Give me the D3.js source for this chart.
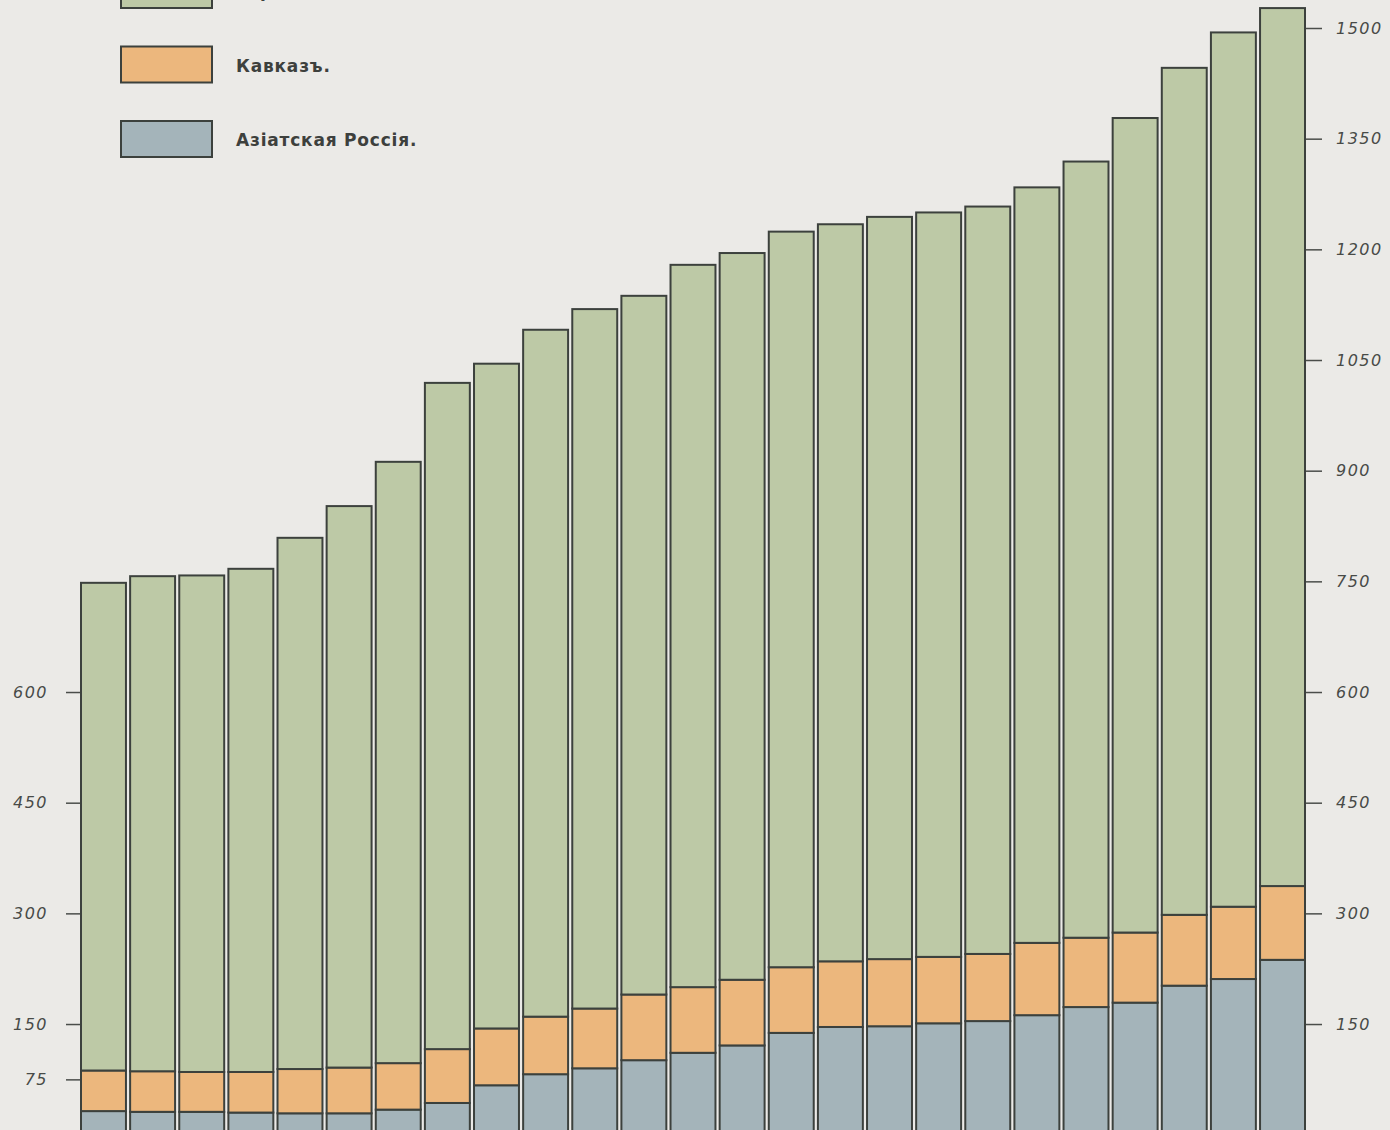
<!DOCTYPE html>
<html>
<head>
<meta charset="utf-8">
<script src="https://cdn.jsdelivr.net/npm/d3@7"></script>
<style>
  html, body { margin: 0; padding: 0; background: #ebeae7; overflow: hidden; }
</style>
</head>
<body>
<script>
'use strict';

// one bar per year (thousands of km)
const years = ["1", "2", "3", "4", "5", "6", "7", "8", "9", "10", "11", "12", "13",
  "14", "15", "16", "17", "18", "19", "20", "21", "22", "23", "24", "25"];

const asia = [32, 31, 31, 30, 29, 29, 34, 43, 67, 82, 90, 101, 111, 121, 138, 146,
  147, 151, 154, 162, 173, 179, 202, 211, 237];

const caucasus = [55, 55, 54, 55, 60, 62, 63, 73, 77, 78, 81, 89, 89, 89, 89, 89,
  91, 90, 91, 98, 94, 95, 96, 98, 100];

const europe = [661, 671, 673, 682, 720, 761, 815, 903, 901, 931, 948, 947, 979,
  985, 997, 999, 1006, 1009, 1013, 1024, 1052, 1104, 1148, 1185, 1190];

const leftTicks = [75, 150, 300, 450, 600];
const rightTicks = [150, 300, 450, 600, 750, 900, 1050, 1200, 1350, 1500];

const seriesNames = ["europe", "caucasus", "asia"];
const legendLabels = ["Европейская Россія.", "Кавказъ.", "Азіатская Россія."];

const colors = {
  "europe": "#bdc9a6",
  "caucasus": "#ecb77d",
  "asia": "#a4b4ba"
};

(function () {

  let svgContainer = d3.select('body')
    .append('svg')
    .attr('width', 1390)
    .attr('height', 1130);

  // paper background
  svgContainer.append('rect')
    .attr('width', 1390)
    .attr('height', 1130)
    .attr('fill', '#ebeae7');

  let xScale = d3.scaleBand()
    .domain(years)
    .range([81, 1305])
    .paddingInner(0.085)
    .paddingOuter(0);

  let yScale = d3.scaleLinear()
    .domain([0, 1500])
    .range([1134.7, 28]);

  // build table for the stack
  let table = years.map((y, i) => ({
    year: y,
    asia: asia[i],
    caucasus: caucasus[i],
    europe: europe[i]
  }));

  // stack from bottom: asia, caucasus, europe
  let stack = d3.stack().keys(["asia", "caucasus", "europe"]);
  let layers = stack(table);

  svgContainer.append('g')
    .selectAll('g')
    .data(layers)
    .enter()
    .append('g')
    .attr('fill', (d) => colors[d.key])
    .selectAll('rect')
    .data((d) => d)
    .enter()
    .append('rect')
    .attr('x', (d) => xScale(d.data.year))
    .attr('y', (d) => yScale(d[1]))
    .attr('width', xScale.bandwidth())
    .attr('height', (d) => yScale(d[0]) - yScale(d[1]))
    .attr('stroke', '#3c413d')
    .attr('stroke-width', 2);

  // axes: short ticks only, italic numbers
  let leftAxis = d3.axisLeft(yScale)
    .tickValues(leftTicks)
    .tickFormat(d3.format('d'))
    .tickSize(14)
    .tickPadding(18);
  let gl = svgContainer.append('g')
    .attr('transform', 'translate(80, 0)')
    .call(leftAxis);

  let rightAxis = d3.axisRight(yScale)
    .tickValues(rightTicks)
    .tickFormat(d3.format('d'))
    .tickSize(16)
    .tickPadding(14);
  let gr = svgContainer.append('g')
    .attr('transform', 'translate(1306, 0)')
    .call(rightAxis);

  [gl, gr].forEach((g) => {
    g.select('.domain').remove();
    g.selectAll('line')
      .attr('stroke', '#4a4d4a')
      .attr('stroke-width', 1.5);
    g.selectAll('text')
      .attr('fill', '#484b48')
      .style('font-family', '"DejaVu Sans", sans-serif')
      .style('font-style', 'italic')
      .style('font-size', '16px')
      .style('letter-spacing', '1.5px');
  });

  // legend in the upper left, first entry runs off the top like the plate
  let legend = svgContainer.append('g');
  legend.selectAll('rect')
    .data(seriesNames)
    .enter()
    .append('rect')
    .attr('x', 121)
    .attr('y', (d, i) => -28 + i * 74.5)
    .attr('width', 91)
    .attr('height', 36)
    .attr('fill', (d) => colors[d])
    .attr('stroke', '#3c413d')
    .attr('stroke-width', 2);

  legend.selectAll('text')
    .data(legendLabels)
    .enter()
    .append('text')
    .attr('x', 236)
    .attr('y', (d, i) => -3 + i * 74.5)
    .attr('fill', '#3d403d')
    .style('font-family', '"DejaVu Sans", sans-serif')
    .style('font-weight', 'bold')
    .style('font-size', '17px')
    .style('letter-spacing', '0.8px')
    .text((d) => d);
})();
</script>
</body>
</html>
